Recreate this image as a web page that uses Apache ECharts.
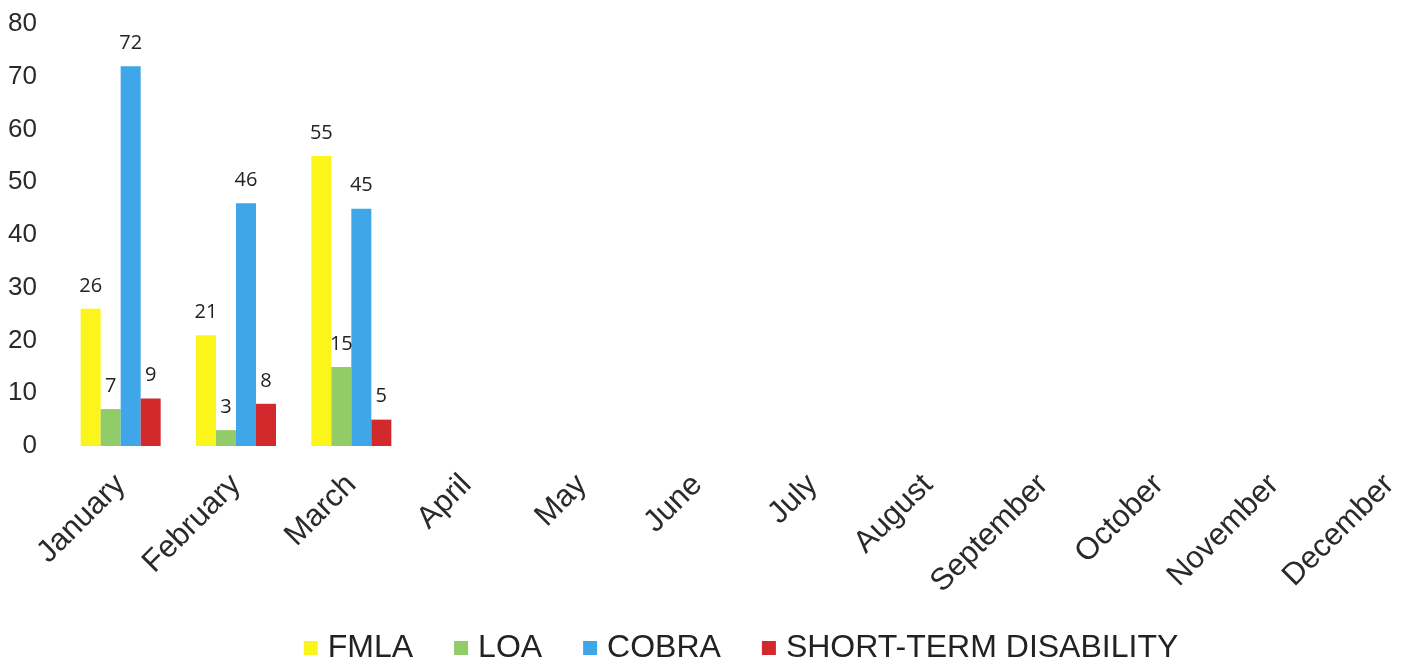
<!DOCTYPE html>
<html>
<head>
<meta charset="utf-8">
<title>Leave report</title>
<script src="https://cdn.jsdelivr.net/npm/echarts@6/dist/echarts.min.js"></script>
<style>
	html, body { margin: 0; padding: 0; background: #fff; overflow: hidden; }
	/* the original chart was wider than the crop, so the right edge is cut off */
	#chart { width: 1482px; height: 667px; }
</style>
</head>
<body>
<div id="chart"></div>
<script>
	// data
	var months = ['January','February','March','April','May','June','July','August','September','October','November','December'];
	var fmla = [26, 21, 55, null, null, null, null, null, null, null, null, null];
	var loa = [7, 3, 15, null, null, null, null, null, null, null, null, null];
	var cobra = [72, 46, 45, null, null, null, null, null, null, null, null, null];
	var std = [9, 8, 5, null, null, null, null, null, null, null, null, null];
	var yTicks = [0, 10, 20, 30, 40, 50, 60, 70, 80];

	var colors = ['#fcf51c', '#92cc68', '#3ea6e9', '#d22a2c'];
	var names = ['FMLA', 'LOA', 'COBRA', 'SHORT-TERM DISABILITY'];
	var lists = [fmla, loa, cobra, std];

	var myChart = echarts.init(document.getElementById('chart'));

	var series = [];
	for (var i = 0; i < lists.length; i++) {
		series.push({
			name: names[i],
			type: 'bar',
			data: lists[i],
			barWidth: 20,
			barGap: '0%',
			itemStyle: { color: colors[i] },
			label: {
				show: true,
				position: 'top',
				distance: 13,
				fontFamily: 'Open Sans',
				fontSize: 20,
				color: '#222'
			}
		});
	}

	var option = {
		animation: false,
		backgroundColor: '#fff',
		grid: {
			left: 63,
			top: 24,
			right: 35,
			bottom: 221
		},
		legend: {
			data: names,
			bottom: -2,
			left: 'center',
			icon: 'rect',
			itemWidth: 14,
			itemHeight: 14,
			itemGap: 41,
			textStyle: {
				fontFamily: 'Liberation Sans',
				fontSize: 32,
				color: '#222',
				padding: [0, 0, 0, 5]
			}
		},
		xAxis: {
			type: 'category',
			data: months,
			axisLine: { show: false },
			axisTick: { show: false },
			axisLabel: {
				interval: 0,
				rotate: 45,
				margin: 34,
				fontFamily: 'Liberation Sans',
				fontSize: 31,
				color: '#2a2a2a'
			}
		},
		yAxis: {
			type: 'value',
			min: yTicks[0],
			max: yTicks[yTicks.length - 1],
			interval: 10,
			axisLine: { show: false },
			axisTick: { show: false },
			splitLine: { show: false },
			axisLabel: {
				margin: 26,
				fontFamily: 'Liberation Sans',
				fontSize: 26,
				color: '#2a2a2a'
			}
		},
		series: series
	};
	myChart.setOption(option);
</script>
</body>
</html>
